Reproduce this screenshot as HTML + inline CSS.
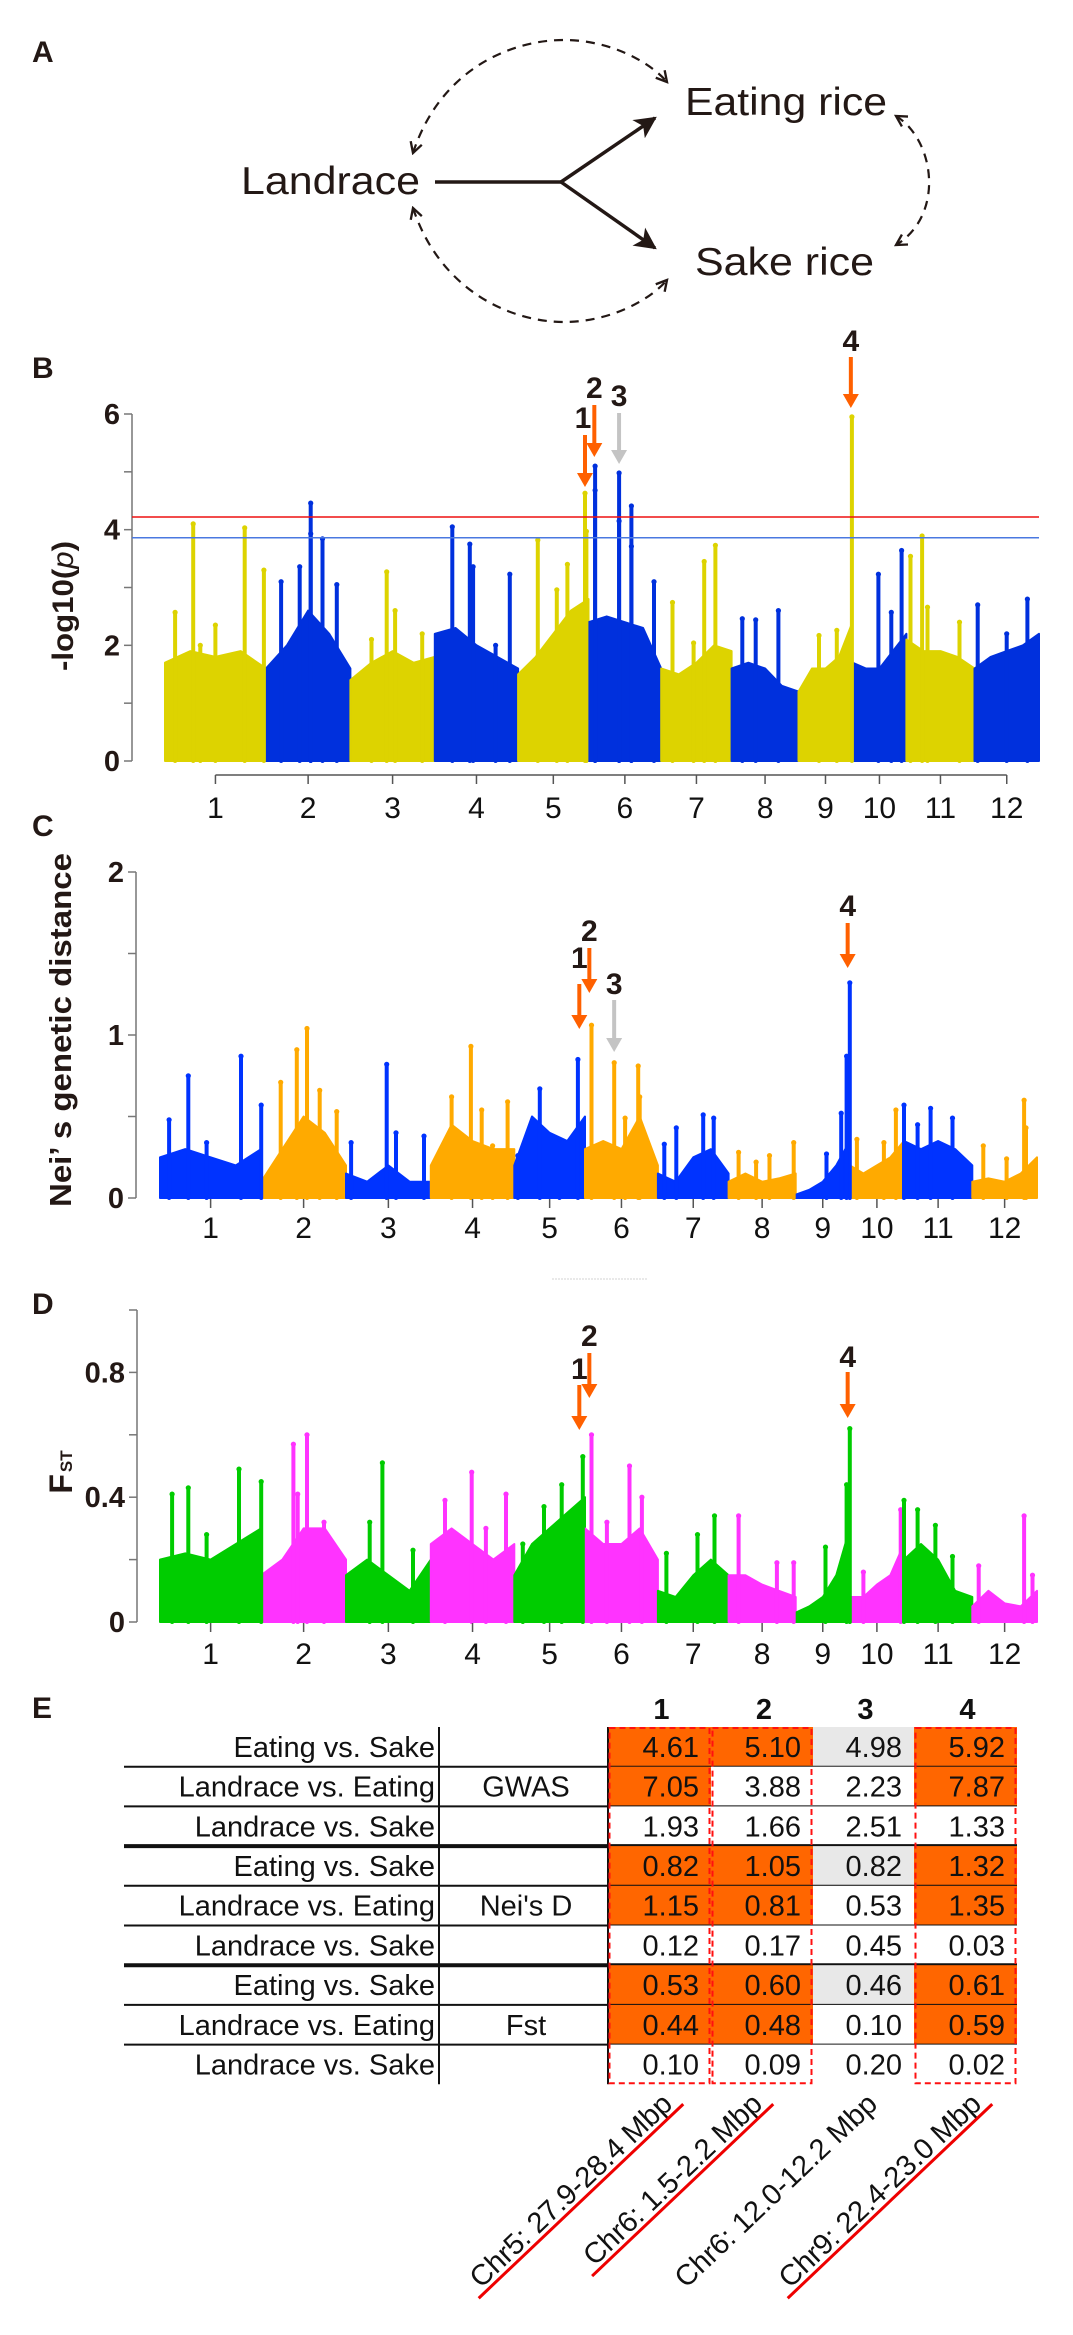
<!DOCTYPE html>
<html><head><meta charset="utf-8"><title>Rice domestication figure</title>
<style>
html,body{margin:0;padding:0;background:#fff;}
svg{display:block;font-family:"Liberation Sans",Arial,sans-serif;}
</style></head>
<body>
<svg id="fig" xmlns="http://www.w3.org/2000/svg" width="1073" height="2335" viewBox="0 0 1073 2335">
<defs>
<marker id="openHead" viewBox="0 0 12 12" refX="10" refY="6" markerWidth="14" markerHeight="14" markerUnits="userSpaceOnUse" orient="auto-start-reverse">
<polyline points="1,1 10,6 1,11" fill="none" stroke="#231815" stroke-width="2"/>
</marker>
<marker id="solidHead" viewBox="0 0 10 10" refX="9" refY="5" markerWidth="22" markerHeight="22" markerUnits="userSpaceOnUse" orient="auto">
<path d="M0,0 L10,5 L0,10 L2.5,5 Z" fill="#231815"/>
</marker>
</defs>

<!-- Panel A -->
<g>
<text x="32" y="62" font-size="30" font-weight="bold" fill="#231815">A</text>
<text x="685" y="115" font-size="39" fill="#231815" textLength="202" lengthAdjust="spacingAndGlyphs">Eating rice</text>
<text x="241" y="194" font-size="39" fill="#231815" textLength="179" lengthAdjust="spacingAndGlyphs">Landrace</text>
<text x="695" y="275" font-size="39" fill="#231815" textLength="179" lengthAdjust="spacingAndGlyphs">Sake rice</text>
<line x1="435" y1="182" x2="561" y2="182" stroke="#231815" stroke-width="3.5"/>
<line x1="561" y1="182" x2="655" y2="118" stroke="#231815" stroke-width="3.5" marker-end="url(#solidHead)"/>
<line x1="561" y1="182" x2="655" y2="248" stroke="#231815" stroke-width="3.5" marker-end="url(#solidHead)"/>
<path d="M413,153 C440,70 510,40 564,40 C610,40 650,62 667,82" fill="none" stroke="#231815" stroke-width="2.2" stroke-dasharray="9,7" marker-start="url(#openHead)" marker-end="url(#openHead)"/>
<path d="M413,208 C440,290 510,322 564,322 C610,322 650,300 667,280" fill="none" stroke="#231815" stroke-width="2.2" stroke-dasharray="9,7" marker-start="url(#openHead)" marker-end="url(#openHead)"/>
<path d="M896,116 C935,140 945,215 896,245" fill="none" stroke="#231815" stroke-width="2.2" stroke-dasharray="9,7" marker-start="url(#openHead)" marker-end="url(#openHead)"/>
</g>

<g id="panels"></g>

<!-- Panel E table -->
<g id="tableE"></g>
</svg>

<script>
// ---------- Chromosome data ----------
const chromNames = ["1","2","3","4","5","6","7","8","9","10","11","12"];
const chromLengths = [43,36,36,35.5,30,31,30,28.5,23,23,29,27.5];

// ---------- Panel B: GWAS -log10(p) ----------
const bBulk = [
 [1.7,1.9,1.8,1.9,1.6],[1.6,2.0,2.6,2.2,1.6],[1.4,1.7,1.9,1.7,1.8],[2.2,2.3,2.0,1.8,1.6],
 [1.5,1.8,2.2,2.6,2.8],[2.4,2.5,2.4,2.3,1.6],[1.6,1.5,1.7,2.0,1.9],[1.6,1.7,1.6,1.3,1.2],
 [1.2,1.6,1.6,1.8,2.4],[1.7,1.6,1.6,1.9,2.2],[2.1,1.9,1.9,1.8,1.6],[1.6,1.8,1.9,2.0,2.2]];
const bSpikeChr = [1,1,1,1,1,1, 2,2,2,2,2,2, 3,3,3,3, 4,4,4,4,4, 5,5,5,5,5, 6,6,6,6,6,6,6, 7,7,7,7, 8,8,8, 9,9,9, 10,10,10, 11,11,11,11, 12,12,12];
const bSpikePos = [.28,.79,.98,.1,.5,.35, .53,.53,.67,.4,.18,.84, .43,.53,.25,.85, .21,.42,.46,.9,.73, .28,.55,.7,.95,.97, .09,.09,.42,.59,.42,.59,.9, .16,.61,.77,.46, .16,.36,.70, .99,.71,.38, .91,.48,.72, .23,.06,.31,.78, .82,.05,.5];
const bSpikeVal = [4.1,4.03,3.3,2.57,2.35,2.0, 4.46,3.93,3.84,3.36,3.1,3.05, 3.27,2.6,2.1,2.2, 4.05,3.75,3.36,3.23,2.0, 3.82,2.96,3.4,4.63,3.97, 5.1,4.68,4.98,4.41,4.15,3.71,3.1, 2.74,3.45,3.73,2.04, 2.46,2.44,2.6, 5.95,2.26,2.17, 3.64,3.23,2.57, 3.89,3.54,2.66,2.4, 2.8,2.7,2.2];
const bThresholds = [4.22, 3.86];
const bTicks = [0,1,2,3,4,5,6];
const bTickLabels = ["0","","2","","4","","6"];

// ---------- Panel C: Nei's genetic distance ----------
const cBulk = [
 [0.25,0.3,0.25,0.2,0.3],[0.1,0.3,0.5,0.4,0.2],[0.15,0.1,0.2,0.1,0.1],[0.2,0.45,0.35,0.3,0.3],
 [0.2,0.5,0.4,0.35,0.5],[0.3,0.35,0.3,0.5,0.2],[0.15,0.1,0.25,0.3,0.15],[0.1,0.15,0.1,0.12,0.15],
 [0.02,0.05,0.1,0.2,0.35],[0.2,0.15,0.2,0.25,0.35],[0.35,0.3,0.35,0.3,0.2],[0.1,0.12,0.1,0.15,0.25]];
const cSpikeChr = [1,1,1,1,1, 2,2,2,2,2, 3,3,3,3, 4,4,4,4,4, 5,5,5,5, 6,6,6,6,6, 7,7,7,7, 8,8,8,8, 9,9,9,9, 10,10,10, 11,11,11,11, 12,12,12,12];
const cSpikePos = [.28,.8,.09,1.0,.46, .54,.42,.23,.69,.89, .48,.59,.06,.92, .25,.48,.61,.92,.74, .36,.9,.64,.05, .09,.4,.73,.75,.55, .09,.64,.79,.26, .15,.61,.97,.41, 1.0,.94,.84,.57, .85,.63,.13, .0,.39,.71,.2, .8,.83,.17,.53];
const cSpikeVal = [0.75,0.87,0.48,0.57,0.34, 1.04,0.91,0.71,0.66,0.53, 0.82,0.4,0.34,0.38, 0.62,0.93,0.54,0.59,0.32, 0.67,0.85,0.36,0.26, 1.06,0.83,0.81,0.62,0.49, 0.33,0.51,0.49,0.43, 0.28,0.26,0.34,0.22, 1.32,0.87,0.52,0.27, 0.54,0.34,0.36, 0.57,0.55,0.49,0.45, 0.6,0.43,0.32,0.24];
const cTicks = [0,0.5,1,1.5,2];
const cTickLabels = ["0","","1","","2"];

// ---------- Panel D: Fst ----------
const dBulk = [
 [0.2,0.22,0.2,0.25,0.3],[0.15,0.2,0.3,0.3,0.2],[0.15,0.2,0.15,0.1,0.2],[0.25,0.3,0.25,0.2,0.25],
 [0.15,0.25,0.3,0.35,0.4],[0.3,0.25,0.25,0.3,0.2],[0.1,0.08,0.15,0.2,0.15],[0.15,0.15,0.12,0.1,0.08],
 [0.03,0.05,0.08,0.15,0.3],[0.08,0.08,0.12,0.15,0.25],[0.2,0.25,0.2,0.1,0.08],[0.05,0.1,0.06,0.05,0.1]];
const dSpikeChr = [1,1,1,1,1, 2,2,2,2, 3,3,3, 4,4,4,4, 5,5,5,5, 6,6,6,6, 7,7,7, 8,8,8, 9,9,9, 10,10, 11,11,11,11, 12,12,12];
const dSpikePos = [.12,.28,.78,1.0,.46, .54,.38,.43,.74, .43,.28,.79, .49,.17,.9,.66, .97,.67,.42,.12, .09,.61,.78,.3, .8,.12,.56, .15,.72,.97, 1.0,.94,.55, .94,.25, .0,.2,.46,.71, .8,.1,.93];
const dSpikeVal = [0.41,0.43,0.49,0.45,0.28, 0.6,0.57,0.41,0.32, 0.51,0.32,0.23, 0.48,0.39,0.41,0.3, 0.53,0.44,0.37,0.25, 0.6,0.5,0.4,0.32, 0.34,0.22,0.28, 0.34,0.19,0.19, 0.62,0.44,0.24, 0.36,0.16, 0.39,0.36,0.31,0.21, 0.34,0.18,0.15];
const dTicks = [0,0.2,0.4,0.6,0.8,1.0];
const dTickLabels = ["0","","0.4","","0.8",""];

// ---------- Panel E: table ----------
const tableComparisons = ["Eating vs. Sake","Landrace vs. Eating","Landrace vs. Sake"];
const tableMetrics = ["GWAS","Nei's D","Fst"];
const tableRegions = ["Chr5: 27.9-28.4 Mbp","Chr6: 1.5-2.2 Mbp","Chr6: 12.0-12.2 Mbp","Chr9: 22.4-23.0 Mbp"];
const tableValues = [
 ["4.61","5.10","4.98","5.92"],["7.05","3.88","2.23","7.87"],["1.93","1.66","2.51","1.33"],
 ["0.82","1.05","0.82","1.32"],["1.15","0.81","0.53","1.35"],["0.12","0.17","0.45","0.03"],
 ["0.53","0.60","0.46","0.61"],["0.44","0.48","0.10","0.59"],["0.10","0.09","0.20","0.02"]];
const tableFill = [
 ["o","o","g","o"],["o","w","w","o"],["w","w","w","w"],
 ["o","o","g","o"],["o","o","w","o"],["w","w","w","w"],
 ["o","o","g","o"],["o","o","w","o"],["w","w","w","w"]];

const NS = "http://www.w3.org/2000/svg";
function mk(tag, attrs, parent){
  const e = document.createElementNS(NS, tag);
  for (const k in attrs) e.setAttribute(k, attrs[k]);
  parent.appendChild(e);
  return e;
}
const root = document.getElementById("panels");
const totalLen = chromLengths.reduce((a,b)=>a+b,0);

function drawPanel(cfg){
  const g = mk("g", {}, root);
  
  
  const xs = v => cfg.x0 + (cfg.x1 - cfg.x0) * v / totalLen;
  const ys = v => cfg.y0 - (cfg.y0 - cfg.yTop) * v / cfg.yMax;
  const starts = [];
  let acc = 0;
  chromLengths.forEach(l => { starts.push(acc); acc += l; });
  const posX = (c, p) => xs(starts[c] + p * chromLengths[c]);

  cfg.bulk.forEach((vals, c) => {
    let pts = [[posX(c,0), ys(0)]];
    vals.forEach((v,k) => pts.push([posX(c, k/(vals.length-1)), ys(v)]));
    pts.push([posX(c,1), ys(0)]);
    const poly = mk("polygon", {points: pts.map(p=>p[0].toFixed(1)+","+p[1].toFixed(1)).join(" "), fill: cfg.colors[c%2], stroke: cfg.colors[c%2], "stroke-width": 2, "stroke-linejoin":"round"}, g);
    
    
  });
  cfg.spikeChr.forEach((c, i) => {
    const ci = c - 1;
    const x = posX(ci, cfg.spikePos[i]);
    const col = cfg.colors[ci%2];
    const ln = mk("line", {x1:x.toFixed(1), y1:ys(0).toFixed(1), x2:x.toFixed(1), y2:ys(cfg.spikeVal[i]).toFixed(1), stroke: col, "stroke-width": 4, "stroke-linecap":"round"}, g);
    
    
    const dot = mk("circle", {cx:x.toFixed(1), cy:ys(cfg.spikeVal[i]).toFixed(1), r:2.6, fill: col}, g);
    
    
  });
  const ax = mk("line", {x1:cfg.axisX, y1:ys(cfg.yMax), x2:cfg.axisX, y2:ys(0), stroke:"#777", "stroke-width":1.5}, g);
  
  
  cfg.ticks.forEach((t,i) => {
    const tk = mk("line", {x1:cfg.axisX-8, y1:ys(t), x2:cfg.axisX, y2:ys(t), stroke:"#777", "stroke-width":1.5}, g);
    
    
    if (cfg.tickLabels[i]) {
      const tl = mk("text", {x:cfg.axisX-12, y:ys(t)+10, "font-size":29, "font-weight":"bold", fill:"#231815", "text-anchor":"end"}, g);
      tl.textContent = cfg.tickLabels[i];
      
      
    }
  });
  if (cfg.xLine) {
    const xl = mk("line", {x1:posX(0,0.5), y1:cfg.xAxisY, x2:posX(11,0.5), y2:cfg.xAxisY, stroke:"#555", "stroke-width":1.5}, g);
    
    
  }
  chromNames.forEach((n,c) => {
    const x = posX(c, 0.5);
    const tk = mk("line", {x1:x, y1:cfg.xAxisY, x2:x, y2:cfg.xAxisY+9, stroke:"#555", "stroke-width":1.5}, g);
    
    
    const tl = mk("text", {x:x, y:cfg.xLabelY, "font-size":30, fill:"#111", "text-anchor":"middle"}, g);
    tl.textContent = n;
    
    
  });
  (cfg.thresholds||[]).forEach((t,i) => {
    const th = mk("line", {x1:cfg.axisX, y1:ys(t), x2:cfg.x1, y2:ys(t), stroke: i===0?"#ee1111":"#4a78e0", "stroke-width":1.5}, g);
    
    
  });
  cfg.arrows.forEach(a => {
    const x = posX(a.c-1, a.p);
    const col = a.gray ? "#c4c4c4" : "#ff6000";
    const ln = mk("line", {x1:x, y1:a.tail, x2:x, y2:a.tip-12, stroke:col, "stroke-width":4}, g);
    
    
    const hd = mk("polygon", {points:`${x-8},${a.tip-14} ${x+8},${a.tip-14} ${x},${a.tip}`, fill:col}, g);
    
    
    const tl = mk("text", {x:x+(a.dx||0), y:a.ly+11, "font-size":30, "font-weight":"bold", fill:"#231815", "text-anchor":"middle"}, g);
    tl.textContent = a.label;
    
    
  });
  const pl = mk("text", {x:32, y:cfg.letterY, "font-size":30, "font-weight":"bold", fill:"#231815"}, g);
  pl.textContent = cfg.letter;
  
  
  return g;
}

drawPanel({name:"panel-b-gwas", letter:"B", letterY:378, x0:165, x1:1039, yTop:414, y0:761, yMax:6, axisX:132,
  colors:["#ddd300","#0030dd"], bulk:bBulk, spikeChr:bSpikeChr, spikePos:bSpikePos, spikeVal:bSpikeVal,
  ticks:bTicks, tickLabels:bTickLabels, xLine:true, xAxisY:775, xLabelY:818, thresholds:bThresholds,
  arrows:[{c:5,p:.95,tail:435,tip:487,label:"1",ly:417,dx:-2},{c:6,p:.08,tail:405,tip:457,label:"2",ly:387},{c:6,p:.42,tail:413,tip:464,label:"3",ly:395,gray:true},{c:9,p:.97,tail:357,tip:408,label:"4",ly:340}]});
drawPanel({name:"panel-c-nei-distance", letter:"C", letterY:836, x0:160, x1:1037, yTop:872, y0:1198, yMax:2, axisX:136,
  colors:["#0033ff","#ffaa00"], bulk:cBulk, spikeChr:cSpikeChr, spikePos:cSpikePos, spikeVal:cSpikeVal,
  ticks:cTicks, tickLabels:cTickLabels, xLine:false, xAxisY:1199, xLabelY:1238,
  arrows:[{c:5,p:.92,tail:984,tip:1029,label:"1",ly:957},{c:6,p:.06,tail:948,tip:993,label:"2",ly:930},{c:6,p:.4,tail:1000,tip:1052,label:"3",ly:983,gray:true},{c:9,p:.96,tail:923,tip:968,label:"4",ly:905}]});
drawPanel({name:"panel-d-fst", letter:"D", letterY:1314, x0:160, x1:1037, yTop:1310, y0:1622, yMax:1.0, axisX:137,
  colors:["#00cc00","#ff33ff"], bulk:dBulk, spikeChr:dSpikeChr, spikePos:dSpikePos, spikeVal:dSpikeVal,
  ticks:dTicks, tickLabels:dTickLabels, xLine:false, xAxisY:1623, xLabelY:1664,
  arrows:[{c:5,p:.92,tail:1385,tip:1430,label:"1",ly:1368},{c:6,p:.06,tail:1353,tip:1398,label:"2",ly:1335},{c:9,p:.96,tail:1372,tip:1418,label:"4",ly:1356}]});

function yTitle(txt, x, y, len, name, size){
  const t = mk("text", {x:0, y:0, transform:`translate(${x},${y}) rotate(-90)`, "font-size":size, "font-weight":"bold", fill:"#231815", "text-anchor":"middle", textLength:len, lengthAdjust:"spacingAndGlyphs"}, root);
  t.textContent = txt;
  
  
  return t;
}
const tB = yTitle("", 73, 606, 130, "y-axis-title-gwas", 30);
tB.textContent = "-log10(";
const tsp = mk("tspan", {"font-style":"italic","font-weight":"normal"}, tB); tsp.textContent = "p";
const tsp2 = mk("tspan", {}, tB); tsp2.textContent = ")";
yTitle("Nei\u2019 s genetic distance", 71, 1030, 354, "y-axis-title-nei", 31);
const fst = mk("text", {x:0, y:0, transform:"translate(72,1472) rotate(-90)", "font-size":32, "font-weight":"bold", fill:"#231815", "text-anchor":"middle"}, root);


fst.textContent = "F";
const sub = mk("tspan", {"font-size":17, dx:"2", dy:"0"}, fst); sub.textContent = "ST";

const stray = mk("line", {x1:552, y1:1279, x2:647, y2:1279, stroke:"#e2e2e2", "stroke-width":1.5, "stroke-dasharray":"2,1"}, root);



// ---------- Table ----------
const T = document.getElementById("tableE");
const tTop = 1727, rowH = 39.7, colX = [608, 711, 813, 914, 1017], labelRight = 435, vLineX = 439, tLeft = 124;
const eL = mk("text", {x:32, y:1718, "font-size":30, "font-weight":"bold", fill:"#231815"}, T);
eL.textContent = "E";


const fillMap = {o:"#ff6600", g:"#e8e8e8", w:"#ffffff"};
tableValues.forEach((row, r) => {
  const y = tTop + r*rowH;
  row.forEach((v, c) => {
    const cell = mk("rect", {x:colX[c], y:y, width:colX[c+1]-colX[c], height:rowH, fill:fillMap[tableFill[r][c]]}, T);
    
    
    const t = mk("text", {x:colX[c+1]-12, y:y+rowH/2+10, "font-size":29, fill:"#111", "text-anchor":"end"}, T);
    t.textContent = v;
    
    
  });
  const lab = mk("text", {x:labelRight, y:y+rowH/2+10, "font-size":29, fill:"#111", "text-anchor":"end"}, T);
  lab.textContent = tableComparisons[r%3];
  
  
  if (r < 8) {
    const thick = (r%3===2);
    const ln = mk("line", {x1:tLeft, y1:y+rowH, x2:colX[4], y2:y+rowH, stroke:"#111", "stroke-width": thick?4:2}, T);
    
    
  }
});
tableMetrics.forEach((m, i) => {
  const t = mk("text", {x:526, y:tTop + (i*3+1.5)*rowH + 10, "font-size":29, fill:"#111", "text-anchor":"middle"}, T);
  t.textContent = m;
  
  
});
const vl = mk("line", {x1:vLineX, y1:tTop, x2:vLineX, y2:tTop+9*rowH, stroke:"#111", "stroke-width":2}, T);


const vl2 = mk("line", {x1:colX[0], y1:tTop, x2:colX[0], y2:tTop+9*rowH, stroke:"#111", "stroke-width":2}, T);


[0,1,3].forEach(c => {
  const d = mk("rect", {x:colX[c]+1.5, y:tTop+1, width:colX[c+1]-colX[c]-3, height:9*rowH-2, fill:"none", stroke:"#ff1010", "stroke-width":2, "stroke-dasharray":"6,4"}, T);
  
  
});
["1","2","3","4"].forEach((h, c) => {
  const t = mk("text", {x:(colX[c]+colX[c+1])/2 + 2, y:1719, "font-size":29, "font-weight":"bold", fill:"#111", "text-anchor":"middle"}, T);
  t.textContent = h;
  
  
});
const regEnds = [[674,2106],[764,2106],[879,2106],[983,2106]];
const underline = [true,true,false,true];
tableRegions.forEach((txt, i) => {
  const [ex, ey] = regEnds[i];
  const t = mk("text", {x:0, y:0, transform:`translate(${ex},${ey}) rotate(-43.5)`, "font-size":29, fill:"#111", "text-anchor":"end"}, T);
  t.textContent = txt;
  
  
  if (underline[i]) {
    const bb = t.getComputedTextLength ? t.getComputedTextLength() : 290;
    const ul = mk("line", {x1:8, y1:5, x2:-bb-8, y2:5, transform:`translate(${ex},${ey}) rotate(-43.5)`, stroke:"#ee0000", "stroke-width":3}, T);
    
    
  }
});
</script>
</body></html>
